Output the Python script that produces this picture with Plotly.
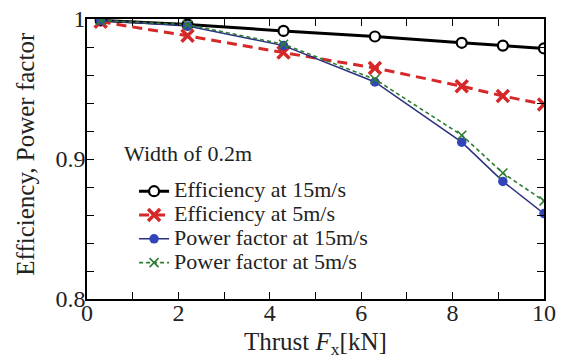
import plotly.graph_objects as go

thrust = [0.3, 2.2, 4.3, 6.3, 8.2, 9.1, 10.0]
eff_15 = [0.999, 0.996, 0.9915, 0.9875, 0.983, 0.981, 0.979]
eff_5 = [0.998, 0.988, 0.976, 0.965, 0.952, 0.945, 0.939]
pf_15 = [0.999, 0.995, 0.981, 0.955, 0.912, 0.884, 0.861]
pf_5 = [0.999, 0.996, 0.982, 0.957, 0.917, 0.890, 0.870]
series_names = ["Efficiency at 15m/s", "Efficiency at 5m/s",
                "Power factor at 15m/s", "Power factor at 5m/s"]

x_ticks = [0, 1, 2, 3, 4, 5, 6, 7, 8, 9, 10]
x_labels = ["0", "", "2", "", "4", "", "6", "", "8", "", "10"]
y_ticks = [0.80, 0.82, 0.84, 0.86, 0.88, 0.90, 0.92, 0.94, 0.96, 0.98, 1.00]
y_labels = ["0.8", "", "", "", "", "0.9", "", "", "", "", "1"]

FONT = "Liberation Serif, Times New Roman, serif"
TXT = "#222"
RED = "#d62828"
GREEN = "#2e7d32"


def lg(name):
    return '<span style="font-size:22px">' + name + "</span>"


fig = go.Figure()
fig.add_trace(go.Scatter(x=thrust, y=eff_15, name=lg(series_names[0]), mode="lines+markers",
                         line=dict(color="black", width=3),
                         marker=dict(symbol="circle", size=10, color="white",
                                     line=dict(color="black", width=2.2))))
fig.add_trace(go.Scatter(x=thrust, y=eff_5, name=lg(series_names[1]), mode="lines+markers",
                         line=dict(color=RED, width=3, dash="10px,6px"),
                         marker=dict(symbol="x-thin", size=12, color=RED,
                                     line=dict(color=RED, width=3.5))))
fig.add_trace(go.Scatter(x=thrust, y=pf_15, name=lg(series_names[2]), mode="lines+markers",
                         line=dict(color="#2b2f7f", width=1.5),
                         marker=dict(symbol="circle", size=9.5, color="#3344bb")))
fig.add_trace(go.Scatter(x=thrust, y=pf_5, name=lg(series_names[3]), mode="lines+markers",
                         line=dict(color=GREEN, width=1.6, dash="4px,3px"),
                         marker=dict(symbol="x-thin", size=9, color=GREEN,
                                     line=dict(color=GREEN, width=1.6))))

axis_common = dict(showline=True, linecolor="black", linewidth=1.5, mirror="ticks",
                   ticks="inside", ticklen=7, tickwidth=1.2, tickcolor="black",
                   showgrid=False, zeroline=False, automargin=False,
                   ticklabeloverflow="allow",
                   tickfont=dict(family=FONT, size=24, color=TXT))

fig.update_xaxes(range=[0, 10], tickvals=x_ticks, ticktext=x_labels,
                 ticklabelstandoff=-9, **axis_common)
fig.update_yaxes(range=[0.8, 1.0], tickvals=y_ticks, ticktext=y_labels,
                 ticklabelstandoff=-5, **axis_common)

fig.update_layout(
    width=556, height=350,
    margin=dict(l=79, r=20, t=11, b=59, autoexpand=False),
    plot_bgcolor="white", paper_bgcolor="white",
    font=dict(family=FONT, color=TXT),
    legend=dict(x=0.103, y=0.256, xanchor="left", yanchor="middle",
                bgcolor="rgba(0,0,0,0)", font=dict(family=FONT, size=16, color=TXT),
                tracegroupgap=0, itemwidth=30),
    annotations=[
        dict(text="Width of 0.2m", xref="paper", yref="paper",
             x=0.076, y=0.518, xanchor="left", yanchor="middle",
             showarrow=False, font=dict(family=FONT, size=22, color=TXT)),
        dict(text="Thrust <i>F</i><sub>x</sub>[kN]", xref="paper", yref="paper",
             x=0.5, y=-0.158, xanchor="center", yanchor="middle", showarrow=False,
             font=dict(family=FONT, size=25, color=TXT)),
        dict(text="Efficiency, Power factor", xref="paper", yref="paper",
             x=-0.134, y=0.518, xanchor="center", yanchor="middle", textangle=-90,
             showarrow=False, font=dict(family=FONT, size=25, color=TXT)),
    ],
)

fig.write_html("out.html")
